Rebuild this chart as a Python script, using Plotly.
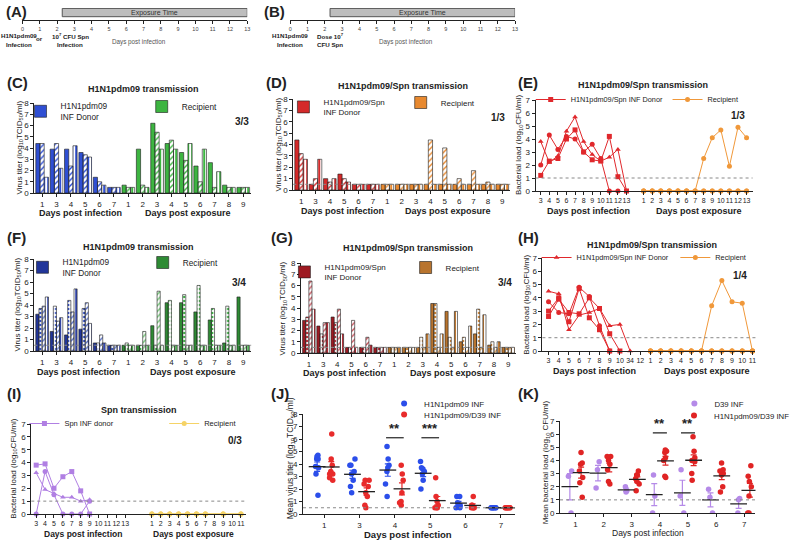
import plotly.graph_objects as go
import numpy as np

FONT = "Liberation Sans, Arial, sans-serif"
W, H = 795, 541

# ---------------- data ----------------
timeline_days = list(range(14))
exposure_window = [2.3, 13]

bar_donor_days = ["1", "3", "4", "5", "6", "7"]
bar_recip_days = ["1", "2", "3", "4", "5", "6", "7", "8", "9"]

# (C) H1N1pdm09 transmission, 3 pairs
c_donor = [
    [4.4, 3.9, 3.9, 3.6, 1.4, 0.5],
    [4.4, 4.4, 2.4, 3.4, 1.0, 0.5],
    [1.4, 2.2, 4.2, 3.2, 0.7, 0.5],
]
c_recip = [
    [0.7, 3.9, 6.2, 4.4, 3.6, 2.4, 2.7, 0.7, 0.5],
    [0.5, 0.7, 5.4, 4.7, 2.9, 1.0, 0.5, 0.5, 0.5],
    [0.5, 0.5, 3.9, 3.9, 4.4, 3.9, 1.9, 0.5, 0.5],
]
# (D) H1N1pdm09/Spn transmission, 3 pairs
d_donor = [
    [4.4, 0.5, 1.0, 1.4, 0.5, 0.5],
    [3.2, 1.0, 0.7, 1.0, 0.5, 0.5],
    [2.7, 2.7, 1.0, 0.7, 0.5, 0.5],
]
d_recip = [
    [0.5, 0.5, 0.5, 0.5, 0.5, 0.5, 0.5, 0.5, 0.5],
    [0.5, 0.5, 0.5, 4.4, 3.7, 1.0, 1.7, 0.7, 0.5],
    [0.5, 0.5, 0.5, 0.5, 0.5, 0.5, 0.5, 0.5, 0.5],
]
# (F) H1N1pdm09 transmission, 4 pairs
f_donor = [
    [3.2, 1.7, 1.4, 1.9, 0.7, 0.5],
    [3.7, 3.9, 4.4, 3.7, 0.7, 0.5],
    [3.9, 2.6, 3.4, 4.2, 1.4, 0.5],
    [4.7, 2.9, 5.4, 2.4, 0.7, 0.5],
]
f_recip = [
    [0.5, 0.5, 2.2, 4.2, 4.2, 3.4, 2.7, 0.7, 4.7],
    [0.7, 0.5, 0.5, 4.4, 4.9, 5.7, 3.7, 3.9, 0.5],
    [0.5, 1.7, 5.2, 0.5, 0.5, 0.5, 0.5, 0.5, 0.5],
    [0.5, 0.5, 0.5, 0.5, 0.5, 0.5, 0.5, 0.5, 0.5],
]
# (G) H1N1pdm09/Spn transmission, 4 pairs
g_donor = [
    [2.9, 2.4, 3.2, 0.5, 0.5, 0.5],
    [3.2, 1.7, 2.7, 0.5, 0.5, 0.5],
    [6.4, 2.7, 3.9, 2.9, 1.4, 0.5],
    [3.9, 2.7, 1.7, 0.5, 0.7, 0.5],
]
g_recip = [
    [0.5, 0.5, 0.5, 4.4, 3.7, 1.0, 1.7, 0.7, 0.5],
    [0.5, 0.5, 1.4, 4.4, 1.4, 1.4, 3.9, 1.0, 0.5],
    [0.5, 0.5, 0.5, 0.5, 0.5, 0.5, 0.5, 0.5, 0.5],
    [0.5, 0.5, 1.7, 1.7, 3.7, 2.4, 3.4, 1.0, 0.5],
]

# (E) bacterial load, H1N1pdm09/Spn, 3 pairs
e_donor_days = ["3", "4", "5", "6", "7", "8", "9", "10", "11", "12", "13"]
e_donor = [
    [1.2, 2.3, 2.5, 4.0, 4.7, 3.0, 2.4, 2.3, 4.2, 1.1, 0.0],
    [2.0, 4.3, 3.2, 4.2, 4.0, 3.0, 3.6, 2.5, 0.0, 0.0, None],
    [3.8, 2.2, 2.7, 4.6, 5.7, 3.8, 2.8, 2.3, 2.6, 3.2, 0.0],
]
e_recip_days = [1, 2, 3, 4, 5, 6, 7, 8, 9, 10, 11, 12, 13]
e_recip = [
    [0, 0, 0, 0, 0, 0, 0, 2.5, 4.1, 4.7, 1.9, 4.9, 4.1],
    [0, 0, 0, 0, 0, 0, 0, 0, 0, 0, 0, 0, 0],
    [0, 0, 0, 0, 0, 0, 0, 0, 0, 0, 0, 0, 0],
]

# (H) bacterial load, H1N1pdm09/Spn, 4 pairs
h_donor_days = ["3", "4", "5", "6", "7", "8", "9", "10", "34", "12"]
h_donor = [
    [4.5, 4.3, 1.6, 2.7, 2.9, 3.2, 1.9, 2.0, 0.0, None],
    [3.0, 4.0, 2.2, 4.7, 2.5, 1.6, 0.0, None, None, None],
    [3.7, 2.9, 2.8, 4.8, 4.1, 1.9, 0.0, None, None, None],
    [2.6, 3.9, 2.9, 2.8, 4.0, 3.2, 1.3, 0.0, None, None],
]
h_recip_days = [1, 2, 3, 4, 5, 6, 7, 8, 9, 10, 11]
h_recip = [
    [0, 0, 0, 0, 0, 0, 3.4, 5.3, 3.7, 3.6, 0],
    [0, 0, 0, 0, 0, 0, 0, 0, 0, 0, 0],
    [0, 0, 0, 0, 0, 0, 0, 0, 0, 0, 0],
    [0, 0, 0, 0, 0, 0, 0, 0, 0, 0, 0],
]

# (I) Spn transmission, 3 pairs
i_donor_days = ["3", "4", "5", "6", "7", "8", "9", "10", "11", "12", "13"]
i_donor = [
    [3.8, 3.9, 2.0, 2.9, 3.3, 1.8, 0.0],
    [3.2, 1.9, 1.6, 1.3, 1.3, 1.0, 1.1],
    [0.0, 3.3, 1.5, 0.0, 0.0, 0.0, 1.0],
]
i_recip_ticks = [1, 2, 3, 4, 5, 6, 7, 8, 9, 10, 11]
i_recip_days = [1, 2, 3, 4, 5, 6, 7, 9, 11]
i_recip = [
    [0, 0, 0, 0, 0, 0, 0, 0, 0],
    [0, 0, 0, 0, 0, 0, 0, 0, 0],
    [0, 0, 0, 0, 0, 0, 0, 0, 0],
]

# (J) mean virus titer
j_days = ["1", "3", "4", "5", "6", "7"]
j_flu = [
    [4.7, 4.6, 4.4, 4.4, 3.8, 3.7, 3.2, 1.5],
    [4.4, 3.9, 3.9, 3.4, 3.2, 2.7, 2.2, 1.7],
    [5.4, 4.4, 3.9, 3.7, 3.4, 2.4, 1.4],
    [4.2, 3.7, 3.6, 3.4, 3.2, 2.7, 2.0],
    [1.4, 1.4, 0.9, 0.7, 0.7, 0.5, 0.5],
    [0.5, 0.5, 0.5, 0.5, 0.5, 0.5, 0.5],
]
j_coinf = [
    [6.4, 4.4, 3.9, 3.4, 3.2, 3.2, 2.9, 2.7],
    [2.7, 2.7, 2.4, 2.2, 1.7, 1.4, 0.7, 0.5],
    [3.9, 3.2, 2.7, 1.7, 1.0, 0.9, 0.7],
    [2.9, 1.4, 1.0, 0.7, 0.5, 0.5, 0.5],
    [1.4, 0.7, 0.7, 0.5, 0.5, 0.5, 0.5],
    [0.5, 0.5, 0.5, 0.5, 0.5, 0.5, 0.5],
]
j_sig = {"4": "**", "5": "***"}

# (K) mean bacterial load
k_days = ["1", "2", "3", "4", "5", "6", "7"]
k_spn = [
    [3.2, 2.8, 0.0],
    [3.9, 3.3, 1.9],
    [2.0, 1.7, 1.6],
    [2.9, 1.3, 0.0],
    [3.3, 1.3, 0.0],
    [1.8, 1.2, 0.0],
    [1.1, 1.0, 0.0],
]
k_coinf = [
    [4.6, 3.8, 3.7, 3.2, 2.7, 2.3, 1.2],
    [4.3, 4.3, 4.0, 3.7, 3.3, 2.4, 2.2],
    [3.2, 2.9, 2.9, 2.6, 2.4, 2.2, 1.7],
    [4.8, 4.7, 4.6, 4.2, 4.0, 2.8, 2.7],
    [5.8, 4.7, 4.2, 4.0, 3.9, 3.0, 2.5],
    [3.8, 3.3, 3.2, 3.0, 2.9, 2.0, 1.6],
    [3.6, 2.8, 2.4, 2.0, 1.3, 0.0, 0.0],
]
k_sig = {"4": "**", "5": "**"}


# ---------------- helpers ----------------
def fx(p):
    return p / W


def fy(p):
    return 1 - p / H


fig = go.Figure()
lay = {}
annots = []
shapes = []

AX = dict(showline=True, linecolor="#222", linewidth=1, ticks="outside", ticklen=3,
          tickwidth=1, tickcolor="#222", showgrid=False, zeroline=False, tickangle=0,
          automargin=False, tickfont=dict(size=8, color="#222", family=FONT))


def axis_pair(n, x0, x1, ytop, ybot, xkw, ykw):
    xn = "xaxis" if n == 1 else f"xaxis{n}"
    yn = "yaxis" if n == 1 else f"yaxis{n}"
    xr = "x" if n == 1 else f"x{n}"
    yr = "y" if n == 1 else f"y{n}"
    lay[xn] = {**AX, "domain": [fx(x0), fx(x1)], "anchor": yr, **xkw}
    lay[yn] = {**AX, "domain": [fy(ybot), fy(ytop)], "anchor": xr, **ykw}
    return xr, yr


def text(px, py, s, size=9, bold=False, xanchor="center", color="#222", angle=0):
    annots.append(dict(x=fx(px), y=fy(py), xref="paper", yref="paper",
                       text=f"<b>{s}</b>" if bold else s, showarrow=False,
                       xanchor=xanchor, yanchor="middle", textangle=angle,
                       font=dict(size=size, color=color, family=FONT)))


def legend_box(name, px, py, size=8):
    lay[name] = dict(x=fx(px), y=fy(py), xanchor="left", yanchor="top",
                     bgcolor="rgba(0,0,0,0)", borderwidth=0, tracegroupgap=0,
                     font=dict(size=size, color="#222", family=FONT))


def lod_line(n, level):
    shapes.append(dict(type="line", xref=f"x{n} domain", yref=f"y{n}", x0=0, x1=1,
                       y0=level, y1=level, line=dict(color="#888", width=1, dash="dot")))


# hidden axis for legend proxies
lay["xaxis20"] = dict(domain=[0, 0.001], visible=False, anchor="y20")
lay["yaxis20"] = dict(domain=[0, 0.001], visible=False, anchor="x20")


def legend_proxy(kind, name, color, leg, symbol="square"):
    if kind == "bar":
        fig.add_trace(go.Bar(x=[None], y=[None], name=name, legend=leg, xaxis="x20", yaxis="y20",
                             marker=dict(color=color, line=dict(color="#1b1b1b", width=0.6))))
    else:
        fig.add_trace(go.Scatter(x=[None], y=[None], name=name, legend=leg, xaxis="x20",
                                 yaxis="y20", mode="markers",
                                 marker=dict(color=color, size=6, symbol=symbol)))


VT = "Virus titer (log<sub>10</sub>TCID<sub>50</sub>/ml)"
BL = "Bacterial load (log<sub>10</sub>CFU/ml)"


def bar_panel(n, box, donor, recip, dcols, rcols, styles, lod, legs, dname):
    x0, x1, ytop, ybot = box
    nd, nr = len(bar_donor_days), len(bar_recip_days)
    pos = list(range(nd + nr))
    xr, yr = axis_pair(n, x0, x1, ytop, ybot,
                       dict(range=[-0.55, nd + nr - 0.45], tickvals=pos,
                            ticktext=bar_donor_days + bar_recip_days),
                       dict(range=[0, 8], dtick=1))
    for k in range(len(donor)):
        cols = [dcols[k]] * nd + [rcols[k]] * nr
        shape, mode = styles[k]
        marker = dict(color=cols, line=dict(color="#1b1b1b", width=0.6))
        if shape and mode == "on":
            marker["pattern"] = dict(shape=shape, fgcolor="white", bgcolor=cols,
                                     size=4, solidity=0.35, fillmode="replace")
        elif shape:
            marker["pattern"] = dict(shape=shape, fgcolor=cols, bgcolor="white",
                                     size=4, solidity=0.5, fillmode="replace")
        fig.add_trace(go.Bar(x=pos, y=donor[k] + recip[k], xaxis=xr, yaxis=yr,
                             marker=marker, showlegend=False, hoverinfo="skip"))
    if lod:
        lod_line(n, 0.5)
    legend_proxy("bar", dname, dcols[0], legs[0])
    legend_proxy("bar", "Recipient", rcols[0], legs[1])


def line_panel(n, box, dlabels, donor, rticks, rdays, recip, roff, xrange, dcol, rcol,
               symbols, legs, dname):
    x0, x1, ytop, ybot = box
    dpos = list(range(len(dlabels)))
    rpos_ticks = [roff + d - 1 for d in rticks]
    xr, yr = axis_pair(n, x0, x1, ytop, ybot,
                       dict(range=xrange, tickvals=dpos + rpos_ticks,
                            ticktext=dlabels + [str(d) for d in rticks],
                            tickfont=dict(size=7, color="#222", family=FONT)),
                       dict(range=[0, 7], dtick=1))
    lod_line(n, 1)
    for k, ys in enumerate(donor):
        fig.add_trace(go.Scatter(x=dpos[:len(ys)], y=ys, xaxis=xr, yaxis=yr,
                                 mode="lines+markers", name=dname, legend=legs[0],
                                 showlegend=(k == 0), hoverinfo="skip", cliponaxis=False,
                                 line=dict(color=dcol, width=1),
                                 marker=dict(color=dcol, size=5, symbol=symbols[k % len(symbols)])))
    rpos = [roff + d - 1 for d in rdays]
    for k, ys in enumerate(recip):
        fig.add_trace(go.Scatter(x=rpos, y=ys, xaxis=xr, yaxis=yr, mode="lines+markers",
                                 name="Recipient", legend=legs[1], showlegend=(k == 0),
                                 hoverinfo="skip", cliponaxis=False,
                                 line=dict(color=rcol, width=1),
                                 marker=dict(color=rcol, size=5, symbol="circle")))


def dot_panel(n, box, days, groups, ymax, sig, xrange, legs):
    x0, x1, ytop, ybot = box
    pos = list(range(len(days)))
    xr, yr = axis_pair(n, x0, x1, ytop, ybot,
                       dict(range=xrange, tickvals=pos, ticktext=days),
                       dict(range=[0, ymax], dtick=1))
    for (vals, color, off, name), leg in zip(groups, legs):
        xs, ys = [], []
        for i, v in enumerate(vals):
            xs += [i + off] * len(v)
            ys += v
        fig.add_trace(go.Box(x=xs, y=ys, xaxis=xr, yaxis=yr, boxpoints="all", jitter=0.8,
                             pointpos=0, width=0.2, fillcolor="rgba(0,0,0,0)",
                             line=dict(color="rgba(0,0,0,0)"), showlegend=False,
                             marker=dict(color=color, size=5.5), hoverinfo="skip"))
        means = [float(np.mean(v)) for v in vals]
        sems = [float(np.std(v, ddof=1) / np.sqrt(len(v))) for v in vals]
        fig.add_trace(go.Scatter(x=[i + off for i in pos], y=means, xaxis=xr, yaxis=yr,
                                 mode="markers", showlegend=False, hoverinfo="skip",
                                 marker=dict(symbol="line-ew", size=12, color="#222",
                                             line=dict(color="#222", width=1.3)),
                                 error_y=dict(type="data", array=sems, color=color,
                                              thickness=1.2, width=3)))
        legend_proxy("dot", name, color, leg, symbol="circle")
    for d, stars in sig.items():
        i = days.index(d)
        shapes.append(dict(type="line", xref=xr, yref=yr, x0=i - 0.25, x1=i + 0.25,
                           y0=6.1, y1=6.1, line=dict(color="#222", width=1.2)))
        annots.append(dict(x=i, y=6.05, xref=xr, yref=yr, text=f"<b>{stars}</b>",
                           showarrow=False, yanchor="bottom",
                           font=dict(size=13, color="#222", family=FONT)))


# ---------------- (A) and (B) timelines ----------------
for n, x0, x1 in [(1, 23, 253), (2, 297, 527)]:
    xr, yr = axis_pair(n, x0, x1, 8, 20,
                       dict(range=[0, 13], tickvals=timeline_days, ticklen=3,
                            tickfont=dict(size=5.5, color="#444", family=FONT)),
                       dict(range=[-0.9, 0.55], visible=False))
    fig.add_trace(go.Bar(y=[0], x=[exposure_window[1] - exposure_window[0]],
                         base=[exposure_window[0]], orientation="h", width=[1.0],
                         xaxis=xr, yaxis=yr, showlegend=False, hoverinfo="skip",
                         marker=dict(color="#BDBDBD", line=dict(color="#555", width=1))))
    annots.append(dict(x=sum(exposure_window) / 2, y=0, xref=xr, yref=yr,
                       text="Exposure Time", showarrow=False,
                       font=dict(size=7, color="#333", family=FONT)))

text(4, 12, "(A)", 15, True, "left")
text(19, 36, "H1N1pdm09", 6.2, True)
text(19, 44, "Infection", 6.2, True)
text(40, 38, "or", 6.2, True)
text(72, 36, "10<sup>7</sup> CFU Spn", 6.2, True)
text(72, 44, "Infection", 6.2, True)
text(142, 42, "Days post infection", 6.3, False, color="#555")

text(268, 12, "(B)", 15, True, "left")
text(297, 36, "H1N1pdm09", 6.2, True)
text(297, 44, "Infection", 6.2, True)
text(338, 36, "Dose 10<sup>7</sup>", 6.2, True)
text(338, 44, "CFU Spn", 6.2, True)
text(415, 42, "Days post infection", 6.3, False, color="#555")

# ---------------- bar panels ----------------
blue = "#2F4FD3"
green = "#3DB541"
red = "#D42A2A"
orange = "#E8892F"

bar_panel(3, (35, 257, 103, 193), c_donor, c_recip, [blue] * 3, [green] * 3,
          [("", ""), ("/", "on"), ("|", "off")], False, ["legend", "legend2"],
          "H1N1pdm09<br>INF Donor")
bar_panel(4, (300, 522, 99, 190), d_donor, d_recip, [red] * 3, [orange] * 3,
          [("", ""), ("/", "on"), ("|", "off")], True, ["legend3", "legend4"],
          "H1N1pdm09/Spn<br>INF Donor")
bar_panel(6, (35, 257, 259, 351), f_donor, f_recip,
          ["#22369A", "#3550C0", "#5A72C8", "#3448B0"],
          ["#2E8B34", "#3FAE45", "#6CC46F", "#4BA84F"],
          [("", ""), (".", "on"), ("/", "on"), ("|", "off")], True, ["legend7", "legend8"],
          "H1N1pdm09<br>INF Donor")
bar_panel(7, (308, 528, 263, 353), g_donor, g_recip,
          ["#9E1A22", "#B8323C", "#C8505A", "#B02A34"],
          ["#B8742E", "#C98338", "#D89A55", "#C07A33"],
          [("", ""), (".", "on"), ("/", "on"), ("|", "off")], True, ["legend9", "legend10"],
          "H1N1pdm09/Spn<br>INF Donor")

text(5, 83, "(C)", 15, True, "left")
text(147, 89, "H1N1pdm09 transmission", 9, True)
text(248, 122, "3/3", 10, True)
text(82, 213, "Days post infection", 9, True)
text(192, 213, "Days post exposure", 9, True)
text(20, 148, VT, 8, angle=-90)

text(270, 83, "(D)", 15, True, "left")
text(412, 86, "H1N1pdm09/Spn transmission", 9, True)
text(510, 118, "1/3", 10, True)
text(350, 211, "Days post infection", 9, True)
text(458, 211, "Days post exposure", 9, True)
text(285, 145, VT, 8, angle=-90)

text(5, 237, "(F)", 15, True, "left")
text(142, 247, "H1N1pdm09 transmission", 9, True)
text(245, 282, "3/4", 10, True)
text(80, 372, "Days post infection", 9, True)
text(197, 372, "Days post exposure", 9, True)
text(18, 305, VT, 8, angle=-90)

text(275, 237, "(G)", 15, True, "left")
text(417, 248, "H1N1pdm09/Spn transmission", 9, True)
text(517, 282, "3/4", 10, True)
text(352, 373, "Days post infection", 9, True)
text(463, 373, "Days post exposure", 9, True)
text(290, 308, VT, 8, angle=-90)

# ---------------- line panels ----------------
ered = "#E0282C"
eorange = "#F0983A"
line_panel(5, (548, 770, 100, 191), e_donor_days, e_donor, e_recip_days, e_recip_days,
           e_recip, 12, [-0.6, 24.7], ered, eorange, ["square", "circle", "triangle-up"],
           ["legend5", "legend6"], "H1N1pdm09/Spn INF Donor")
line_panel(8, (555, 773, 258, 351), h_donor_days, h_donor, h_recip_days, h_recip_days,
           h_recip, 10, [-0.6, 20.3], ered, eorange,
           ["triangle-up", "square", "circle", "square"],
           ["legend11", "legend12"], "H1N1pdm09/Spn INF Donor")
line_panel(9, (32, 252, 424, 514), i_donor_days, i_donor, i_recip_ticks, i_recip_days,
           i_recip, 13, [-0.55, 23.6], "#B07FE3", "#F5D366",
           ["square", "triangle-up", "circle"], ["legend13", "legend14"], "Spn INF donor")

text(528, 83, "(E)", 15, True, "left")
text(658, 85, "H1N1pdm09/Spn transmission", 9, True)
text(755, 115, "1/3", 10, True)
text(602, 211, "Days post infection", 9, True)
text(715, 211, "Days post exposure", 9, True)
text(531, 145, BL, 8, angle=-90)

text(528, 237, "(H)", 15, True, "left")
text(667, 245, "H1N1pdm09/Spn transmission", 9, True)
text(757, 275, "1/4", 10, True)
text(608, 371, "Days post infection", 9, True)
text(723, 371, "Days post exposure", 9, True)
text(539, 305, BL, 8, angle=-90)

text(5, 393, "(I)", 15, True, "left")
text(142, 410, "Spn transmission", 9, True)
text(240, 440, "0/3", 10, True)
text(85, 534, "Days post infection", 8.5, True)
text(198, 534, "Days post exposure", 8.5, True)
text(14, 469, BL, 8, angle=-90)

# ---------------- dot panels ----------------
dot_panel(10, (310, 527, 414, 514), j_days,
          [(j_flu, "#2B4EEA", -0.2, "H1N1pdm09 INF"),
           (j_coinf, "#E82B2B", 0.2, "H1N1pdm09/D39 INF")],
          8, j_sig, [-0.6, 5.4], ["legend15", "legend16"])
lod_line(10, 0.5)
dot_panel(11, (573, 773, 421, 513), k_days,
          [(k_spn, "#B58AE8", -0.2, "D39 INF"),
           (k_coinf, "#E02424", 0.2, "H1N1pdm09/D39 INF")],
          7, k_sig, [-0.55, 6.4], ["legend17", "legend18"])
lod_line(11, 1)

text(275, 393, "(J)", 15, True, "left")
text(417, 534, "Days post infection", 9.5, True)
text(298, 458, "Mean virus titer (log<sub>10</sub>TCID<sub>50</sub>/ml)", 8.5, angle=-90)
text(528, 393, "(K)", 15, True, "left")
text(663, 533, "Days post infection", 8.5, False)
text(559, 462, "Mean bacterial load (log<sub>10</sub> CFU/ml)", 8, angle=-90)

# ---------------- legends ----------------
legend_box("legend", 21, 94, 8.3)
legend_box("legend2", 145, 92, 8.3)
legend_box("legend3", 290, 90, 8)
legend_box("legend4", 410, 88, 8)
legend_box("legend5", 543, 85, 7.3)
legend_box("legend6", 683, 85, 7.3)
legend_box("legend7", 23, 250, 8.3)
legend_box("legend8", 146, 248, 8.3)
legend_box("legend9", 291, 255, 8)
legend_box("legend10", 415, 253, 8)
legend_box("legend11", 549, 243, 7.3)
legend_box("legend12", 691, 243, 7.3)
legend_box("legend13", 25, 409, 7.5)
legend_box("legend14", 168, 409, 7.5)
legend_box("legend15", 393, 389, 8)
legend_box("legend16", 393, 400, 8)
legend_box("legend17", 690, 389, 7.8)
legend_box("legend18", 690, 401, 7.8)

fig.update_layout(
    width=W, height=H, margin=dict(l=0, r=0, t=0, b=0),
    paper_bgcolor="white", plot_bgcolor="white",
    font=dict(family=FONT, color="#222"),
    barmode="group", bargap=0.12, bargroupgap=0.0,
    annotations=annots, shapes=shapes,
    **lay,
)

fig.write_html("out.html", config={"displayModeBar": False},
               post_script="document.body.style.margin='0px';")
